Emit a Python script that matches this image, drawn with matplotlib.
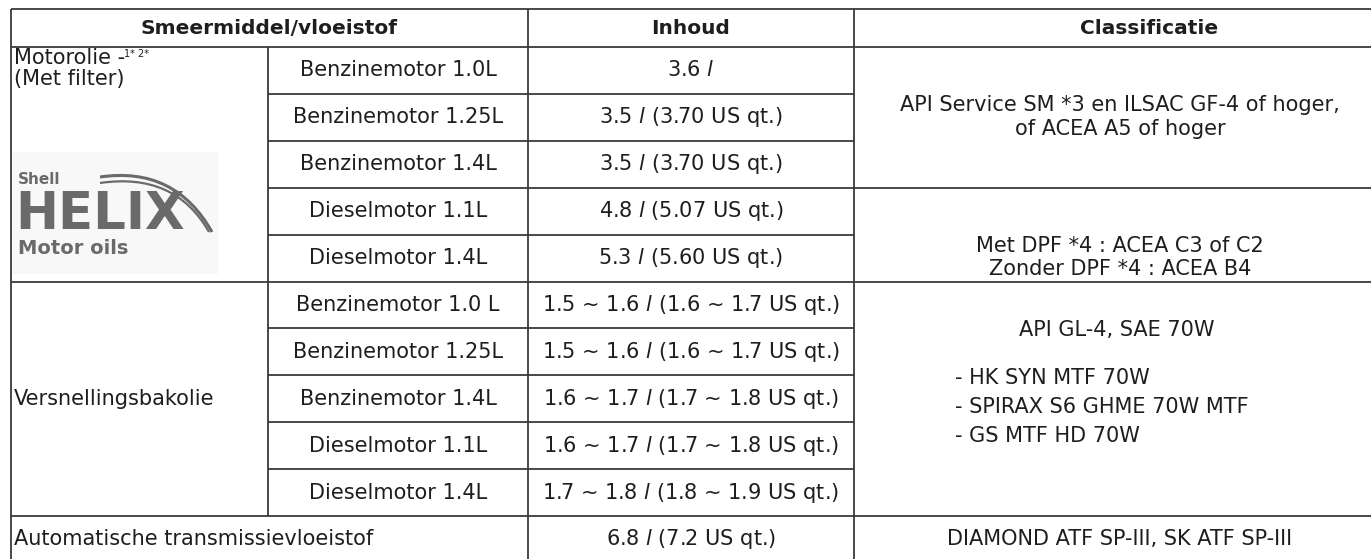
import matplotlib
matplotlib.use("Agg")
import matplotlib.pyplot as plt
from matplotlib.patches import Rectangle, PathPatch
from matplotlib.path import Path

plt.rcParams['font.family'] = ['DejaVu Sans']
plt.rcParams['mathtext.fontset'] = 'dejavusans'

# kolomkoppen
headers = ["Smeermiddel/vloeistof", "Inhoud", "Classificatie"]

# motorolie
oil_engines = ["Benzinemotor 1.0L", "Benzinemotor 1.25L", "Benzinemotor 1.4L",
               "Dieselmotor 1.1L", "Dieselmotor 1.4L"]
oil_amounts = ["3.6 $\\mathit{l}$", "3.5 $\\mathit{l}$ (3.70 US qt.)", "3.5 $\\mathit{l}$ (3.70 US qt.)",
               "4.8 $\\mathit{l}$ (5.07 US qt.)", "5.3 $\\mathit{l}$ (5.60 US qt.)"]
oil_class_petrol = ["API Service SM *3 en ILSAC GF-4 of hoger,", "of ACEA A5 of hoger"]
oil_class_diesel = ["Met DPF *4 : ACEA C3 of C2", "Zonder DPF *4 : ACEA B4"]

# versnellingsbakolie
gear_engines = ["Benzinemotor 1.0 L", "Benzinemotor 1.25L", "Benzinemotor 1.4L",
                "Dieselmotor 1.1L", "Dieselmotor 1.4L"]
gear_amounts = ["1.5 ~ 1.6 $\\mathit{l}$ (1.6 ~ 1.7 US qt.)", "1.5 ~ 1.6 $\\mathit{l}$ (1.6 ~ 1.7 US qt.)",
                "1.6 ~ 1.7 $\\mathit{l}$ (1.7 ~ 1.8 US qt.)", "1.6 ~ 1.7 $\\mathit{l}$ (1.7 ~ 1.8 US qt.)",
                "1.7 ~ 1.8 $\\mathit{l}$ (1.8 ~ 1.9 US qt.)"]
gear_class = "API GL-4, SAE 70W"
gear_products = ["- HK SYN MTF 70W", "- SPIRAX S6 GHME 70W MTF", "- GS MTF HD 70W"]

# automatische transmissie
atf_label = "Automatische transmissievloeistof"
atf_amount = "6.8 $\\mathit{l}$ (7.2 US qt.)"
atf_class = "DIAMOND ATF SP-III, SK ATF SP-III"

W, H = 1371, 559
fig = plt.figure(figsize=(W / 100, H / 100), dpi=100)
ax = fig.add_axes([0, 0, 1, 1])
ax.set_xlim(0, W)
ax.set_ylim(H, 0)
ax.axis('off')

xs = [11, 268, 528, 854, 1444]   # kolomgrenzen
y_top, y_head, rh = 9, 47, 46.9
def ry(i):
    return y_head + i * rh

lc = '#3a3a3a'
lw = 1.3
tc = '#1e1e1e'
fs = 15

# logo achtergrond
ax.add_patch(Rectangle((12, 152), 206, 122, facecolor='#f8f8f8', edgecolor='none', zorder=0))

# lijnen
ax.hlines([y_top, y_head, ry(5), ry(10)], xs[0], xs[4], color=lc, lw=lw)
ax.hlines([ry(i) for i in [1, 2, 3, 4, 6, 7, 8, 9]], xs[1], xs[3], color=lc, lw=lw)
ax.hlines([ry(3)], xs[3], xs[4], color=lc, lw=lw)
ax.vlines(xs[0], y_top, H + 5, color=lc, lw=lw)
ax.vlines(xs[1], y_head, ry(10), color=lc, lw=lw)
ax.vlines([xs[2], xs[3]], y_top, H + 5, color=lc, lw=lw)

# koppen
hy = (y_top + y_head) / 2
ax.text((xs[0] + xs[2]) / 2, hy, headers[0], ha='center', va='center', fontsize=14.5, fontweight='bold', color=tc)
ax.text((xs[2] + xs[3]) / 2, hy, headers[1], ha='center', va='center', fontsize=14.5, fontweight='bold', color=tc)
ax.text(1149, hy, headers[2], ha='center', va='center', fontsize=14.5, fontweight='bold', color=tc)

c2 = (xs[1] + xs[2]) / 2
c3 = (xs[2] + xs[3]) / 2
c4 = 1120

# motorolie
ax.text(14, 58, "Motorolie -", ha='left', va='center', fontsize=fs, color=tc)
ax.text(124, 54, "1* 2*", ha='left', va='center', fontsize=7, color=tc)
ax.text(14, 79, "(Met filter)", ha='left', va='center', fontsize=fs, color=tc)
for i, (e, a) in enumerate(zip(oil_engines, oil_amounts)):
    yc = (ry(i) + ry(i + 1)) / 2
    ax.text(c2, yc, e, ha='center', va='center', fontsize=fs, color=tc)
    ax.text(c3, yc, a, ha='center', va='center', fontsize=fs, color=tc)
mid = (ry(0) + ry(3)) / 2
ax.text(c4, mid - 12, oil_class_petrol[0], ha='center', va='center', fontsize=fs, color=tc)
ax.text(c4, mid + 12, oil_class_petrol[1], ha='center', va='center', fontsize=fs, color=tc)
ax.text(c4, 246, oil_class_diesel[0], ha='center', va='center', fontsize=fs, color=tc)
ax.text(c4, 269, oil_class_diesel[1], ha='center', va='center', fontsize=fs, color=tc)

# logo
gray = '#6a6a6a'
ax.text(18, 180, "Shell", ha='left', va='center', fontsize=11, fontweight='bold', color=gray)
ax.text(15, 215, "HELIX", ha='left', va='center', fontsize=37, fontweight='bold', color=gray)
ax.text(18, 249, "Motor oils", ha='left', va='center', fontsize=14, fontweight='bold', color=gray)
for dy, w in [(0, 2.2), (6, 1.6)]:
    p = Path([(100, 177 + dy), (175, 166 + dy), (212 - dy * 0.5, 232)],
             [Path.MOVETO, Path.CURVE3, Path.CURVE3])
    ax.add_patch(PathPatch(p, facecolor='none', edgecolor=gray, lw=w))

# versnellingsbakolie
ax.text(14, (ry(5) + ry(10)) / 2, "Versnellingsbakolie", ha='left', va='center', fontsize=fs, color=tc)
for i, (e, a) in enumerate(zip(gear_engines, gear_amounts)):
    yc = (ry(5 + i) + ry(6 + i)) / 2
    ax.text(c2, yc, e, ha='center', va='center', fontsize=fs, color=tc)
    ax.text(c3, yc, a, ha='center', va='center', fontsize=fs, color=tc)
ax.text(1117, 330, gear_class, ha='center', va='center', fontsize=fs, color=tc)
for j, g in enumerate(gear_products):
    ax.text(955, 378 + j * 29, g, ha='left', va='center', fontsize=fs, color=tc)

# automatische transmissie
yc = (ry(10) + ry(11)) / 2
ax.text(14, yc, atf_label, ha='left', va='center', fontsize=fs, color=tc)
ax.text(c3, yc, atf_amount, ha='center', va='center', fontsize=fs, color=tc)
ax.text(c4, yc, atf_class, ha='center', va='center', fontsize=fs, color=tc)

fig.savefig("out.png", dpi=100, facecolor='white')
